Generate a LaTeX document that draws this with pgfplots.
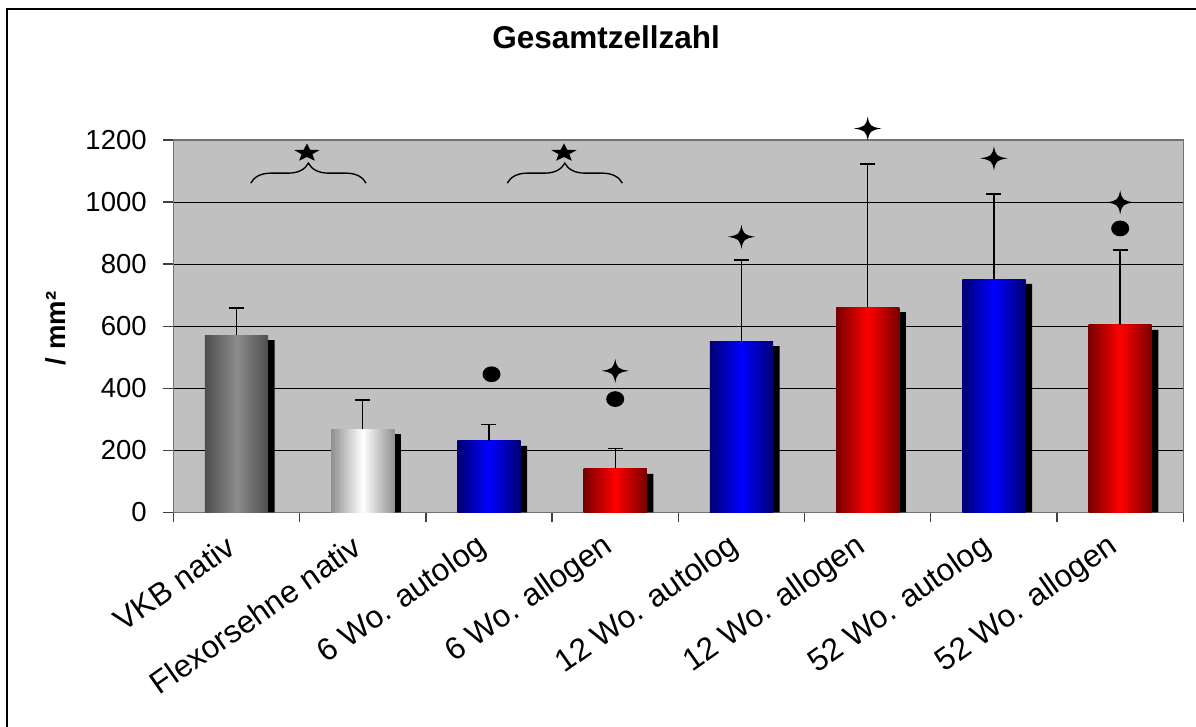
\documentclass[border=0pt]{standalone}
\usepackage{fontspec}
\setmainfont{Liberation Sans}
\usepackage{pgfplots}
\pgfplotsset{compat=1.18}
\usetikzlibrary{decorations.pathreplacing}

\definecolor{plotbg}{RGB}{192,192,192}
\definecolor{grayedge}{RGB}{78,78,78}
\definecolor{graymid}{RGB}{140,140,140}
\definecolor{whiteedge}{RGB}{145,145,145}
\definecolor{blueedge}{RGB}{0,0,115}
\definecolor{blueMid}{RGB}{0,0,255}
\definecolor{rededge}{RGB}{120,0,0}
\definecolor{redMid}{RGB}{255,0,0}

\pgfdeclareplotmark{fivestar}{%
  \pgfpathmoveto{\pgfqpoint{0pt}{3.465pt}}%
  \pgfpathlineto{\pgfqpoint{-1.325pt}{0.94pt}}%
  \pgfpathlineto{\pgfqpoint{-5.1pt}{0.822pt}}%
  \pgfpathlineto{\pgfqpoint{-2.142pt}{-0.857pt}}%
  \pgfpathlineto{\pgfqpoint{-3.152pt}{-3.454pt}}%
  \pgfpathlineto{\pgfqpoint{0pt}{-1.967pt}}%
  \pgfpathlineto{\pgfqpoint{3.152pt}{-3.454pt}}%
  \pgfpathlineto{\pgfqpoint{2.142pt}{-0.857pt}}%
  \pgfpathlineto{\pgfqpoint{5.1pt}{0.822pt}}%
  \pgfpathlineto{\pgfqpoint{1.325pt}{0.94pt}}%
  \pgfpathclose
  \pgfusepathqfill}

\pgfdeclareplotmark{fourstar}{%
  \pgfpathmoveto{\pgfqpoint{0pt}{4.8pt}}%
  \pgfpathcurveto{\pgfqpoint{0.7pt}{1.1pt}}{\pgfqpoint{1.1pt}{0.7pt}}{\pgfqpoint{5.5pt}{0pt}}%
  \pgfpathcurveto{\pgfqpoint{1.1pt}{-0.7pt}}{\pgfqpoint{0.7pt}{-1.1pt}}{\pgfqpoint{0pt}{-4.8pt}}%
  \pgfpathcurveto{\pgfqpoint{-0.7pt}{-1.1pt}}{\pgfqpoint{-1.1pt}{-0.7pt}}{\pgfqpoint{-5.5pt}{0pt}}%
  \pgfpathcurveto{\pgfqpoint{-1.1pt}{0.7pt}}{\pgfqpoint{-0.7pt}{1.1pt}}{\pgfqpoint{0pt}{4.8pt}}%
  \pgfpathclose
  \pgfusepathqfill}

\pgfdeclareplotmark{edot}{%
  \pgfpathellipse{\pgfpointorigin}{\pgfqpoint{3.6pt}{0pt}}{\pgfqpoint{0pt}{3.15pt}}%
  \pgfusepathqfill}

\begin{document}
\begin{tikzpicture}
\begin{axis}[
  at={(0,0)}, anchor=south west,
  scale only axis, width=403.96pt, height=148.92pt,
  xmin=-0.5, xmax=7.5, ymin=0, ymax=1200,
  clip=false,
  ytick={0,200,...,1200},
  xtick={-0.5,0.5,...,7.5},
  x tick label as interval,
  xticklabels={VKB nativ, Flexorsehne nativ, 6 Wo. autolog, 6 Wo. allogen, 12 Wo. autolog, 12 Wo. allogen, 52 Wo. autolog, 52 Wo. allogen},
  tick align=outside, tick pos=left,
  major tick length=4pt,
  tick style={black!75, line width=0.5pt},
  ymajorgrids, major grid style={black, line width=0.4pt},
  axis background/.style={fill=plotbg},
  axis line style={draw=black!55, line width=0.6pt},
  /pgf/number format/assume math mode=true,
  /pgf/number format/1000 sep={},
  yticklabel style={font=\fontsize{11}{13}\selectfont, inner sep=0pt, xshift=-6.5pt},
  xticklabel style={font=\fontsize{12.6}{15}\selectfont, inner sep=0pt, xshift=-2.2pt, yshift=-8.4pt, rotate=35, anchor=east},
  title={Gesamtzellzahl},
  title style={at={(axis description cs:0.4284,1.2364)}, anchor=center, font=\bfseries\fontsize{12.6}{15}\selectfont},
  ylabel={/ mm²},
  ylabel style={at={(axis description cs:-0.1165,0.494)}, anchor=center, font=\bfseries\fontsize{11}{13}\selectfont},
]
% shadows
\addplot[ybar, bar width=0.5, bar shift=0pt, fill=black, draw=none, forget plot]
  coordinates {(0.052,555) (1.052,252) (2.052,214) (3.052,124) (4.052,536) (5.052,645) (6.052,736) (7.052,588)};
% bars
\addplot[ybar, bar width=0.5, bar shift=0pt, draw=none, left color=grayedge, right color=grayedge, middle color=graymid] coordinates {(0,571)};
\addplot[ybar, bar width=0.5, bar shift=0pt, draw=none, left color=whiteedge, right color=whiteedge, middle color=white] coordinates {(1,268)};
\addplot[ybar, bar width=0.5, bar shift=0pt, draw=none, left color=blueedge, right color=blueedge, middle color=blueMid] coordinates {(2,230)};
\addplot[ybar, bar width=0.5, bar shift=0pt, draw=none, left color=rededge, right color=rededge, middle color=redMid] coordinates {(3,140)};
\addplot[ybar, bar width=0.5, bar shift=0pt, draw=none, left color=blueedge, right color=blueedge, middle color=blueMid] coordinates {(4,552)};
\addplot[ybar, bar width=0.5, bar shift=0pt, draw=none, left color=rededge, right color=rededge, middle color=redMid] coordinates {(5,661)};
\addplot[ybar, bar width=0.5, bar shift=0pt, draw=none, left color=blueedge, right color=blueedge, middle color=blueMid] coordinates {(6,752)};
\addplot[ybar, bar width=0.5, bar shift=0pt, draw=none, left color=rededge, right color=rededge, middle color=redMid] coordinates {(7,604)};
% error bars
\addplot[draw=none, forget plot,
  error bars/.cd, y dir=plus, y explicit, error mark=|,
  error bar style={draw=black, line width=0.55pt, solid},
  error mark options={draw=black, line width=0.55pt, mark size=3pt}]
  coordinates {(0,571) +- (0,88) (1,268) +- (0,94) (2,230) +- (0,54) (3,140) +- (0,66)
               (4,552) +- (0,261) (5,661) +- (0,462) (6,752) +- (0,274) (7,604) +- (0,242)};
% significance symbols
\addplot[only marks, mark=fivestar, black, forget plot] coordinates {(0.558,1161) (2.594,1161)};
\addplot[only marks, mark=edot, black, forget plot] coordinates {(2.02,445) (3,365) (7,915)};
\addplot[only marks, mark=fourstar, black, forget plot] coordinates {(3,456) (4,888) (5,1237) (6,1141) (7,999)};
\draw[decorate, decoration={brace, amplitude=8pt}, line width=0.55pt] (axis cs:0.113,1061) -- (axis cs:1.026,1061);
\draw[decorate, decoration={brace, amplitude=8pt}, line width=0.55pt] (axis cs:2.145,1061) -- (axis cs:3.056,1061);
\end{axis}
\pgfresetboundingbox
\path[use as bounding box] (-69.36pt,-85.48pt) rectangle (409.04pt,204.92pt);
\draw[line width=0.6pt] (-66.56pt,-90pt) -- (-66.56pt,201.32pt) -- (415pt,201.32pt);
\end{tikzpicture}
\end{document}
